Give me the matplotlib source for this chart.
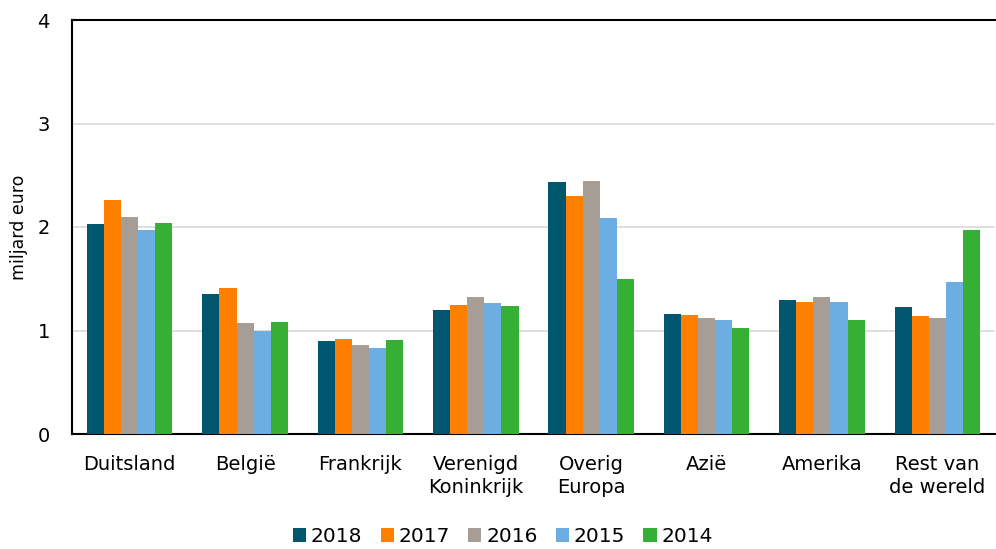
import matplotlib
matplotlib.use("Agg")
import matplotlib.pyplot as plt
import numpy as np

categories = ["Duitsland", "België", "Frankrijk", "Verenigd\nKoninkrijk", "Overig\nEuropa",
              "Azië", "Amerika", "Rest van\nde wereld"]
years = ["2018", "2017", "2016", "2015", "2014"]
v2018 = [2.03, 1.35, 0.90, 1.20, 2.43, 1.16, 1.29, 1.23]
v2017 = [2.26, 1.41, 0.92, 1.25, 2.30, 1.15, 1.28, 1.14]
v2016 = [2.10, 1.07, 0.86, 1.32, 2.44, 1.12, 1.32, 1.12]
v2015 = [1.97, 1.00, 0.83, 1.27, 2.09, 1.10, 1.28, 1.47]
v2014 = [2.04, 1.08, 0.91, 1.24, 1.50, 1.02, 1.10, 1.97]
series = [v2018, v2017, v2016, v2015, v2014]
colors = ["#00566f", "#ff7f00", "#a59d96", "#6caee2", "#36b034"]

plt.rcParams['font.family'] = ['DejaVu Sans']
fig = plt.figure(figsize=(9.96, 5.49), dpi=100)
ax = fig.add_axes([72/996, 1-434/549, 923/996, 414/549])

x = np.arange(len(categories))
w = 0.148
for i, (vals, c, yr) in enumerate(zip(series, colors, years)):
    ax.bar(x + (i - 2) * w, vals, w, color=c, label=yr, zorder=3)

ax.set_xlim(-0.5, len(categories) - 0.5)
ax.set_ylim(0, 4)
ax.set_yticks([0, 1, 2, 3, 4])
ax.yaxis.grid(True, color="#d9d9d9", linewidth=1.2, zorder=0)
ax.set_xticks(x)
ax.set_xticklabels(categories, fontsize=14, linespacing=1.3)
ax.tick_params(axis='y', labelsize=14, length=0, pad=16)
ax.tick_params(axis='x', length=0, pad=15)
ax.set_ylabel("miljard euro", fontsize=12.5, labelpad=7)
for s in ["left", "bottom", "top"]:
    ax.spines[s].set_color("black")
    ax.spines[s].set_linewidth(1.5)
ax.spines["right"].set_visible(False)

fig.legend(loc="lower center", bbox_to_anchor=(0.505, -0.028), ncol=5, frameon=False,
           fontsize=14.5, handlelength=0.65, handleheight=0.65, handletextpad=0.25,
           columnspacing=0.9)
fig.savefig("out.png", dpi=100)
